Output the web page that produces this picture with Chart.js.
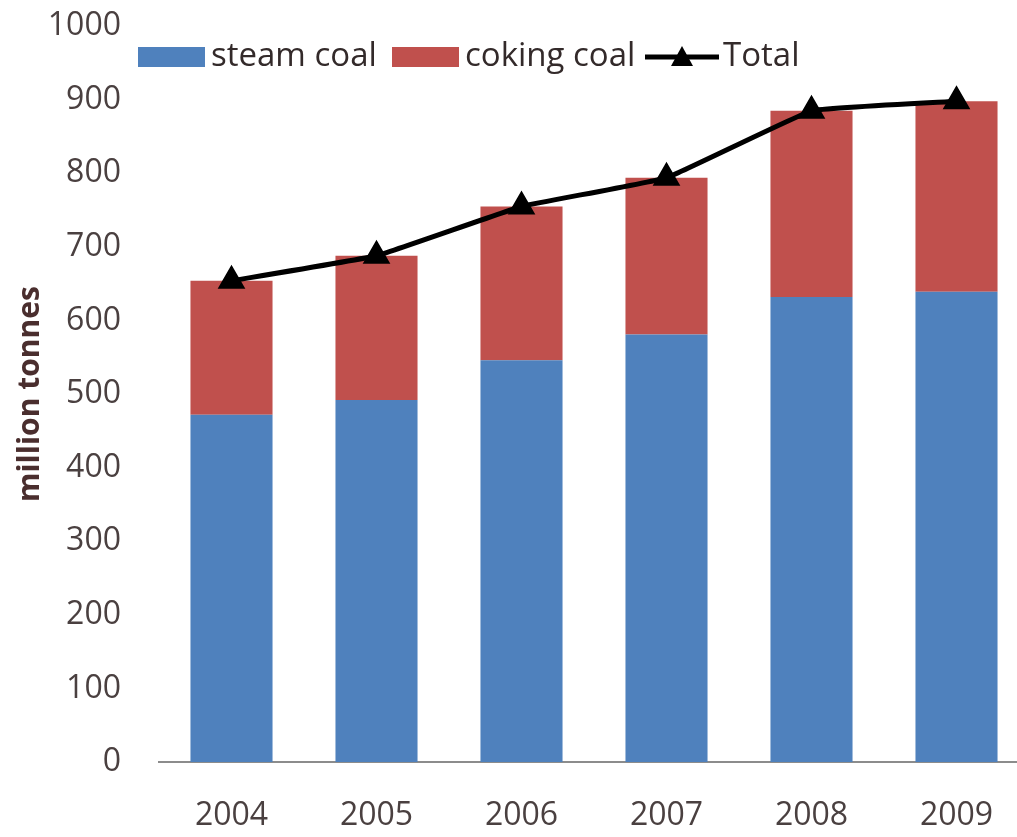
<!DOCTYPE html>
<html lang="en">
<head>
<meta charset="UTF-8">
<title>Coal production</title>
<script src="https://cdn.jsdelivr.net/npm/chart.js"></script>
<style>
    html, body { margin: 0; padding: 0; background: #fff; overflow: hidden; width: 1017px; height: 837px; }
    .wrap { position: relative; width: 1017px; height: 837px; overflow: hidden; }
    #coalChart { position: absolute; left: 0; top: -31px; display: block; width: 1045px; height: 868px; }
    .legend { font-family: 'Open Sans', Lato, sans-serif; font-size: 33px; color: #332a2a; white-space: nowrap; }
    .legend > * { position: absolute; }
    .legend .box { top: 47px; width: 67px; height: 20px; }
    .legend .txt { top: 33px; line-height: 42px; }
</style>
</head>
<body>
<div class="wrap">
    <canvas id="coalChart" width="1045" height="868"></canvas>
    <div class="legend">
        <span class="box" style="left:138px;background:#4F81BD"></span><span class="txt" style="left:211px">steam coal</span>
        <span class="box" style="left:392px;background:#C0504D"></span><span class="txt" style="left:465px">coking coal</span>
        <svg style="left:645px;top:45px" width="74" height="24"><line x1="0" y1="12" x2="74" y2="12" stroke="#000" stroke-width="5"/><polygon points="37,1 48,21 26,21" fill="#000"/></svg>
        <span class="txt" style="left:723px">Total</span>
    </div>
</div>
<script>
const years = ['2004', '2005', '2006', '2007', '2008', '2009'];
const steamCoal = [472, 492, 546, 581, 632, 639];
const cokingCoal = [182, 196, 209, 213, 253, 259];
const total = [654, 688, 755, 794, 885, 898];
const yTicks = [0, 100, 200, 300, 400, 500, 600, 700, 800, 900, 1000];

const font = "'Open Sans', Lato, sans-serif";

new Chart(document.getElementById('coalChart'), {
    data: {
        labels: years,
        datasets: [
            { type: 'line', label: 'Total', data: total, borderColor: '#000', backgroundColor: '#000', borderWidth: 5,
              pointStyle: 'triangle', pointRadius: 11, pointHoverRadius: 11, tension: 0.08, order: 0 },
            { type: 'bar', label: 'steam coal', data: steamCoal, backgroundColor: '#4F81BD', stack: 's', order: 1,
              barPercentage: 0.566, categoryPercentage: 1 },
            { type: 'bar', label: 'coking coal', data: cokingCoal, backgroundColor: '#C0504D', stack: 's', order: 1,
              barPercentage: 0.566, categoryPercentage: 1 }
        ]
    },
    options: {
        responsive: false,
        animation: false,
        layout: { padding: { top: 0, right: 2, bottom: 0, left: 0 } },
        plugins: { legend: { display: false }, tooltip: { enabled: false } },
        scales: {
            x: {
                stacked: true,
                grid: { display: false, drawTicks: false },
                border: { display: true, color: '#8c8c8c', width: 2 },
                ticks: { font: { family: font, size: 32 }, color: '#4a4040', padding: 35 },
                afterFit: (s) => { s.height = 75; }
            },
            y: {
                stacked: true,
                min: 0, max: 1000,
                afterBuildTicks: (s) => { s.ticks = yTicks.map(v => ({ value: v })); },
                grid: { display: false, drawTicks: false },
                border: { display: false },
                ticks: { font: { family: font, size: 32 }, color: '#4a4040', padding: 38, callback: (v) => String(v) },
                title: { display: true, text: 'million tonnes', font: { family: font, size: 30, weight: 'bold' }, color: '#4a2e2e', padding: { top: 12, bottom: 0 } },
                afterFit: (s) => { s.width = 159; }
            }
        }
    }
});
</script>
</body>
</html>
